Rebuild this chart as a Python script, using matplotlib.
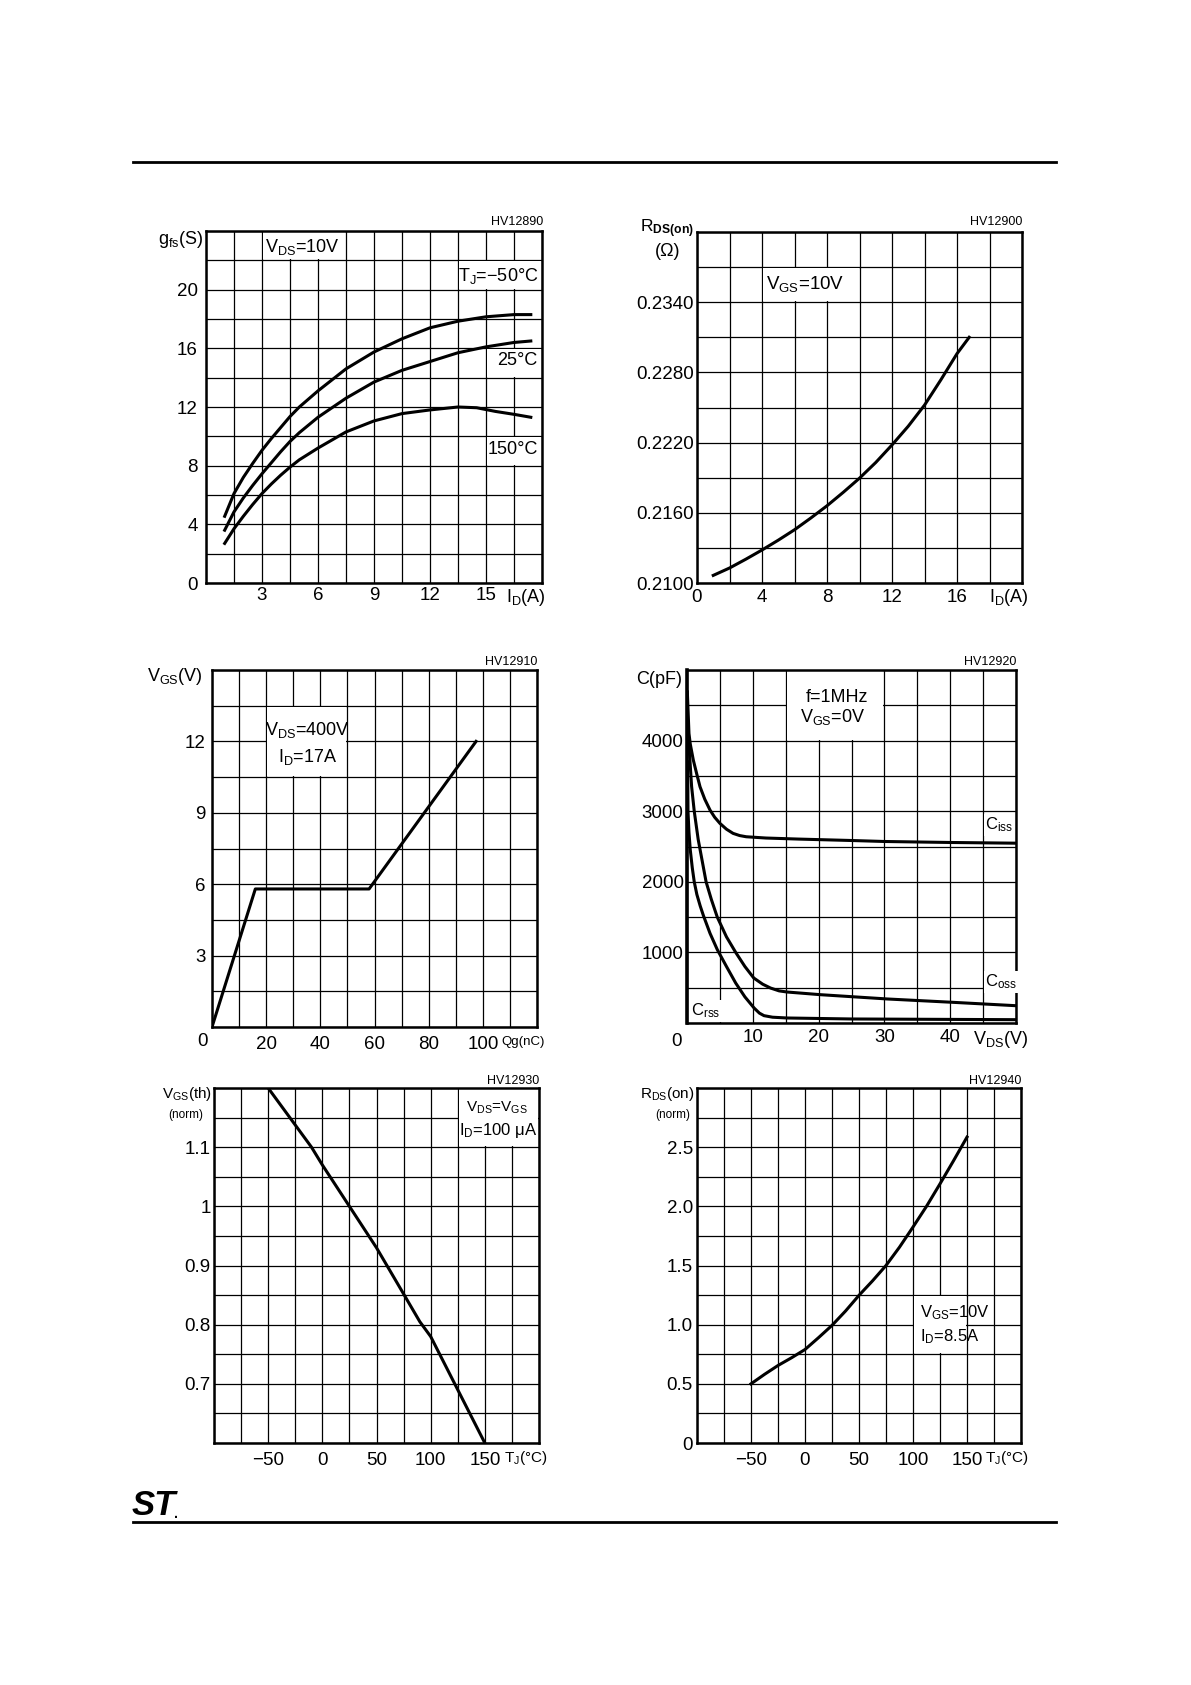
import numpy as np
import matplotlib.pyplot as plt
from matplotlib.patches import Rectangle
from matplotlib.lines import Line2D

plt.rcParams['font.family'] = ['Liberation Sans', 'DejaVu Sans']
plt.rcParams['mathtext.fontset'] = 'custom'
plt.rcParams['mathtext.rm'] = 'Liberation Sans'
plt.rcParams['mathtext.it'] = 'Liberation Sans:italic'
plt.rcParams['mathtext.bf'] = 'Liberation Sans:bold'

W, H = 1191, 1685

# transconductance vs drain current
gfs_id = [1.0, 1.5, 2.0, 2.5, 3, 3.5, 4.0, 4.5, 5.0, 6, 7.5, 9, 10.5, 12, 13.5, 15, 16.5, 17.4]
gfs_m50 = [4.55, 6.1, 7.2, 8.15, 9.05, 9.85, 10.6, 11.35, 12.0, 13.1, 14.6, 15.75, 16.65, 17.4, 17.85, 18.15, 18.3, 18.3]
gfs_25 = [3.6, 4.85, 5.8, 6.65, 7.45, 8.2, 8.95, 9.65, 10.25, 11.3, 12.6, 13.7, 14.5, 15.1, 15.7, 16.1, 16.4, 16.5]
gfs150_id = [1.0, 1.5, 2.0, 2.5, 3, 3.5, 4.0, 4.5, 5.0, 6, 7.5, 9, 10.5, 12, 13.5, 14.5, 15.5, 16.5, 17.4]
gfs_150 = [2.7, 3.7, 4.55, 5.35, 6.1, 6.75, 7.35, 7.9, 8.4, 9.2, 10.3, 11.05, 11.55, 11.8, 12.0, 11.95, 11.7, 11.5, 11.3]

# static drain-source on resistance vs drain current
rds_id = [1, 2, 3, 4, 5, 6, 7, 8, 9, 10, 11, 12, 13, 14, 15, 16, 16.75]
rds_ohm = [0.21065, 0.21128, 0.21203, 0.21282, 0.21366, 0.21455, 0.21555, 0.2166, 0.21775,
           0.21896, 0.2203, 0.2218, 0.2234, 0.2252, 0.22735, 0.2296, 0.2310]

# gate charge
qg_nc = [0, 16, 58, 97.5]
qg_vgs = [0, 5.8, 5.8, 12.0]

# capacitance variations
ciss_v = [0.05, 0.3, 0.5, 0.96, 1.5, 1.98, 2.7, 3.5, 4.2, 5.0, 6.0, 7.0, 8.0, 9.0, 12, 17, 25, 30, 40, 50]
ciss_pf = [4690, 4100, 3950, 3724, 3520, 3346, 3170, 3016, 2915, 2828, 2745, 2686, 2655, 2638,
           2620, 2605, 2585, 2571, 2557, 2547]
coss_v = [0.25, 0.46, 0.7, 1.1, 1.7, 2.3, 2.9, 3.7, 4.6, 6.0, 7.4, 8.8, 10.15, 11.5, 12.7, 14,
          15.2, 20.3, 30.5, 40.6, 50]
coss_pf = [4000, 3700, 3350, 3000, 2600, 2300, 2000, 1750, 1500, 1220, 1000, 800, 637, 550, 495,
           455, 439, 401, 340, 292, 245]
crss_v = [0.1, 0.15, 0.3, 0.5, 0.8, 1.1, 1.5, 2.0, 2.5, 3.5, 4.6, 6.0, 7.4, 8.8, 10.2, 11.0, 11.7,
          13, 15.2, 25, 50]
crss_pf = [3700, 3000, 2700, 2450, 2200, 2000, 1820, 1660, 1520, 1270, 1040, 800, 566, 370, 212,
           140, 104, 82, 71, 57, 47]

# normalized gate threshold voltage vs temperature
vth_t = [-50, -30, -10, 0, 25, 50, 75, 90, 100, 125, 150]
vth_norm = [1.2, 1.15, 1.1, 1.07, 1.0, 0.93, 0.852, 0.805, 0.78, 0.69, 0.6]

# normalized on resistance vs temperature
ron_t = [-50, -37.5, -25, -12.5, 0, 12.5, 25, 37.5, 50, 62.5, 75, 87.5, 100, 112.5, 125, 137.5, 150]
ron_norm = [0.5, 0.58, 0.655, 0.72, 0.79, 0.89, 0.994, 1.115, 1.248, 1.37, 1.50, 1.655, 1.825,
            2.0, 2.19, 2.385, 2.585]

# tick labels ('' = grid line only)
g1_xlab = ['', '', '3', '', '6', '', '9', '', '12', '', '15', '', '']
g1_ylab = ['0', '', '4', '', '8', '', '12', '', '16', '', '20', '', '']
g2_xlab = ['0', '', '4', '', '8', '', '12', '', '16', '', '']
g2_ylab = ['0.2100', '', '0.2160', '', '0.2220', '', '0.2280', '', '0.2340', '', '']
g3_xlab = ['', '', '20', '', '40', '', '60', '', '80', '', '100', '', '']
g3_ylab = ['', '', '3', '', '6', '', '9', '', '12', '', '']
g4_xlab = ['', '', '10', '', '20', '', '30', '', '40', '', '']
g4_ylab = ['', '', '1000', '', '2000', '', '3000', '', '4000', '', '']
g5_xlab = ['', '', '\u221250', '', '0', '', '50', '', '100', '', '150', '', '']
g5_ylab = ['', '', '0.7', '', '0.8', '', '0.9', '', '1', '', '1.1', '', '']
g6_xlab = ['', '', '\u221250', '', '0', '', '50', '', '100', '', '150', '', '']
g6_ylab = ['0', '', '0.5', '', '1.0', '', '1.5', '', '2.0', '', '2.5', '', '']

fig = plt.figure(figsize=(W / 100, H / 100), dpi=100)
TS = 13.5


def ptext(x, y, s, size=12, ha='center', va='center', **kw):
    # text placed in page pixels
    fig.text(x / W, 1 - y / H, s, fontsize=size, ha=ha, va=va, **kw)


def make_axes(x0, y0, x1, y1):
    return fig.add_axes([x0 / W, 1 - y1 / H, (x1 - x0) / W, (y1 - y0) / H])


def setup(ax, xgrid, ygrid, xlab, ylab, xpad, ypad):
    ax.set_xlim(xgrid[0], xgrid[-1])
    ax.set_ylim(ygrid[0], ygrid[-1])
    ax.set_xticks(xgrid)
    ax.set_xticklabels(xlab)
    ax.set_yticks(ygrid)
    ax.set_yticklabels(ylab)
    ax.tick_params(axis='x', length=0, labelsize=TS, pad=xpad)
    ax.tick_params(axis='y', length=0, labelsize=TS, pad=ypad)
    ax.set_axisbelow(True)
    ax.grid(True, color='black', lw=0.9)
    for sp in ax.spines.values():
        sp.set_linewidth(1.8)


def cover(ax, x0, x1, y0, y1):
    # white cell block behind a note, shrunk 1px so its border lines stay
    bb = ax.get_position()
    xl, yl = ax.get_xlim(), ax.get_ylim()
    dx = (xl[1] - xl[0]) / (bb.width * W)
    dy = (yl[1] - yl[0]) / (bb.height * H)
    ax.add_patch(Rectangle((x0 + dx, y0 + dy), x1 - x0 - 2 * dx, y1 - y0 - 2 * dy,
                           facecolor='white', edgecolor='none', zorder=1))


LW = 2.2

# ---- chart 1: gfs
ax1 = make_axes(206, 231, 542, 583)
setup(ax1, np.arange(0, 18.01, 1.5), np.arange(0, 24.01, 2), g1_xlab, g1_ylab, 3, 6)
cover(ax1, 3, 7.5, 22, 24)
cover(ax1, 13.5, 18, 20, 22)
cover(ax1, 15, 18, 14, 16)
cover(ax1, 15, 18, 8, 10)
ax1.plot(gfs_id, gfs_m50, color='black', lw=LW)
ax1.plot(gfs_id, gfs_25, color='black', lw=LW)
ax1.plot(gfs150_id, gfs_150, color='black', lw=LW)
ptext(302, 247, r'V$_{\mathrm{DS}}$=10V', 13)
ptext(538, 276, 'T$_{\\mathrm{J}}$=\u221250°C', 13, ha='right')
ptext(537, 360, '25°C', 13, ha='right')
ptext(538, 450, '150°C', 13, ha='right')
ptext(203, 240, r'g$_{\mathrm{fs}}$(S)', 13, ha='right')
ptext(543, 222, 'HV12890', 9, ha='right')
ptext(546, 598, r'I$_{\mathrm{D}}$(A)', 13, ha='right')

# ---- chart 2: RDS(on)
ax2 = make_axes(697, 232, 1022, 583)
setup(ax2, np.arange(0, 20.01, 2), np.linspace(0.21, 0.24, 11), g2_xlab, g2_ylab, 4.5, 2.5)
cover(ax2, 4, 10, 0.234, 0.237)
ax2.plot(rds_id, rds_ohm, color='black', lw=LW)
ptext(805, 284, r'V$_{\mathrm{GS}}$=10V', 13.5)
ptext(694, 229, r'R$_{\mathbf{DS(on)}}$', 12.5, ha='right')
ptext(668, 252, '(\u03a9)', 13)
ptext(1022, 222, 'HV12900', 9, ha='right')
ptext(1029, 598, r'I$_{\mathrm{D}}$(A)', 13, ha='right')

# ---- chart 3: gate charge
ax3 = make_axes(212, 670, 537, 1027)
setup(ax3, np.arange(0, 120.1, 10), np.arange(0, 15.01, 1.5), g3_xlab, g3_ylab, 6.5, 4.5)
cover(ax3, 20, 50, 10.5, 13.5)
ax3.plot(qg_nc, qg_vgs, color='black', lw=LW)
ptext(307, 730, r'V$_{\mathrm{DS}}$=400V', 13)
ptext(308, 757, r'I$_{\mathrm{D}}$=17A', 13)
ptext(203, 676, r'V$_{\mathrm{GS}}$(V)', 13, ha='right')
ptext(202, 1042, '0', TS)
ptext(537, 662, 'HV12910', 9, ha='right')
ptext(545, 1042, 'Qg(nC)', 9.5, ha='right')

# ---- chart 4: capacitance
ax4 = make_axes(687, 670, 1016, 1023)
setup(ax4, np.arange(0, 50.01, 5), np.arange(0, 5001, 500), g4_xlab, g4_ylab, 4.5, 2.5)
cover(ax4, 15, 30, 4000, 5000)
ax4.spines['left'].set_linewidth(2.6)
ax4.plot(ciss_v, ciss_pf, color='black', lw=LW)
ax4.plot(coss_v, coss_pf, color='black', lw=LW)
ax4.plot(crss_v, crss_pf, color='black', lw=LW)
box = dict(facecolor='white', edgecolor='none', pad=1)
ptext(837, 697, 'f=1MHz', 13)
ptext(833, 717, r'V$_{\mathrm{GS}}$=0V', 13)
ptext(985, 825, r'C$_{\mathrm{iss}}$', 12, ha='left', bbox=box)
ptext(985, 982, r'C$_{\mathrm{oss}}$', 12, ha='left', bbox=box)
ptext(691, 1011, r'C$_{\mathrm{rss}}$', 12, ha='left', bbox=box)
ptext(682, 680, 'C(pF)', 13, ha='right')
ptext(676, 1041, '0', TS)
ptext(1016, 662, 'HV12920', 9, ha='right')
ptext(1028, 1039, r'V$_{\mathrm{DS}}$(V)', 13, ha='right')

# ---- chart 5: VGS(th) norm
ax5 = make_axes(214, 1088, 539, 1443)
setup(ax5, np.arange(-100, 200.1, 25), np.linspace(0.6, 1.2, 13), g5_xlab, g5_ylab, 6.5, 2.5)
cover(ax5, 125, 200, 1.1, 1.2)
ax5.plot(vth_t, vth_norm, color='black', lw=LW)
ptext(497, 1108, r'V$_{\mathrm{DS}}$=V$_{\mathrm{GS}}$', 11)
ptext(498, 1130, 'I$_{\\mathrm{D}}$=100 \u03bcA', 12)
ptext(212, 1094, r'V$_{\mathrm{GS}}$(th)', 11, ha='right')
ptext(203, 1115, '(norm)', 8.5, ha='right')
ptext(539, 1081, 'HV12930', 9, ha='right')
ptext(548, 1458, r'T$_{\mathrm{J}}$(°C)', 11, ha='right')

# ---- chart 6: RDS(on) norm
ax6 = make_axes(697, 1088, 1021, 1443)
setup(ax6, np.arange(-100, 200.1, 25), np.linspace(0, 3.0, 13), g6_xlab, g6_ylab, 6.5, 3)
cover(ax6, 100, 150, 0.75, 1.25)
ax6.plot(ron_t, ron_norm, color='black', lw=LW)
ptext(920, 1313, r'V$_{\mathrm{GS}}$=10V', 12, ha='left')
ptext(920, 1337, r'I$_{\mathrm{D}}$=8.5A', 12, ha='left')
ptext(695, 1094, r'R$_{\mathrm{DS}}$(on)', 11, ha='right')
ptext(690, 1115, '(norm)', 8.5, ha='right')
ptext(1021, 1081, 'HV12940', 9, ha='right')
ptext(1029, 1458, r'T$_{\mathrm{J}}$(°C)', 11, ha='right')

# page rules and logo
fig.add_artist(Line2D([133 / W, 1056 / W], [1 - 161.7 / H] * 2, lw=2.0, color='black'))
fig.add_artist(Line2D([133 / W, 1056 / W], [1 - 1521.7 / H] * 2, lw=2.0, color='black'))
ptext(132, 1505, 'ST', 25, ha='left', weight='heavy', style='italic')
ptext(174, 1514, '.', 10, ha='left', weight='bold')

fig.savefig('out.png', dpi=100)
